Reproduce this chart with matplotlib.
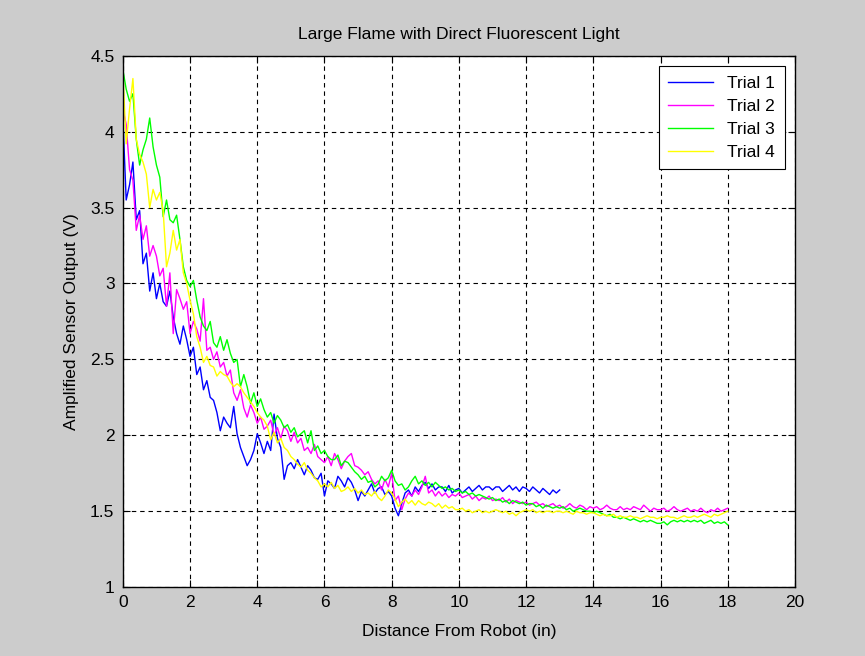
import matplotlib
matplotlib.use("Agg")
import matplotlib.pyplot as plt
import numpy as np

# sampled every 0.1 in
trial1_y = [
    4.10, 3.55, 3.65, 3.80, 3.42, 3.48, 3.13, 3.20, 2.95, 3.07,
    2.90, 3.00, 2.88, 2.85, 2.95, 2.78, 2.67, 2.60, 2.72, 2.63,
    2.52, 2.58, 2.40, 2.45, 2.30, 2.36, 2.25, 2.23, 2.15, 2.03,
    2.12, 2.08, 2.05, 2.19, 2.01, 1.92, 1.86, 1.80, 1.84, 1.90,
    2.01, 1.95, 1.88, 1.96, 1.90, 2.14, 1.98, 1.92, 1.71, 1.80,
    1.82, 1.78, 1.84, 1.79, 1.74, 1.80, 1.77, 1.72, 1.71, 1.75,
    1.60, 1.70, 1.68, 1.65, 1.73, 1.70, 1.66, 1.72, 1.69, 1.64,
    1.57, 1.63, 1.60, 1.64, 1.68, 1.62, 1.65, 1.66, 1.61, 1.63,
    1.60, 1.52, 1.47, 1.55, 1.62, 1.64, 1.60, 1.66, 1.63, 1.67,
    1.69, 1.65, 1.68, 1.64, 1.66, 1.66, 1.63, 1.67, 1.62, 1.64,
    1.65, 1.62, 1.64, 1.66, 1.63, 1.65, 1.67, 1.64, 1.66, 1.66,
    1.64, 1.66, 1.66, 1.63, 1.65, 1.67, 1.64, 1.66, 1.63, 1.66,
    1.65, 1.63, 1.66, 1.64, 1.62, 1.65, 1.63, 1.61, 1.64, 1.62,
    1.64,
]

trial2_y = [
    4.15, 4.05, 3.75, 3.68, 3.35, 3.45, 3.29, 3.38, 3.18, 3.25,
    3.18, 3.05, 3.10, 2.85, 3.07, 2.67, 2.96, 2.90, 2.83, 2.88,
    2.67, 2.75, 2.70, 2.62, 2.90, 2.56, 2.58, 2.50, 2.55, 2.45,
    2.48, 2.39, 2.43, 2.28, 2.23, 2.30, 2.18, 2.12, 2.20, 2.15,
    2.08, 2.12, 2.04, 2.06, 2.10, 2.00, 2.05, 1.98, 2.06, 2.03,
    1.96, 2.02, 1.95, 1.98, 1.90, 1.92, 1.88, 1.94, 1.86, 1.84,
    1.82, 1.86, 1.80, 1.88, 1.84, 1.78, 1.83, 1.86, 1.88, 1.80,
    1.79, 1.77, 1.74, 1.76, 1.71, 1.68, 1.70, 1.64, 1.71, 1.66,
    1.75, 1.57, 1.60, 1.51, 1.58, 1.62, 1.60, 1.64, 1.61, 1.66,
    1.73, 1.62, 1.64, 1.60, 1.63, 1.60, 1.62, 1.59, 1.61, 1.60,
    1.62, 1.59, 1.60, 1.61, 1.58, 1.60, 1.57, 1.59, 1.58, 1.60,
    1.57, 1.58, 1.57, 1.59, 1.56, 1.58, 1.55, 1.57, 1.56, 1.55,
    1.56, 1.54, 1.55, 1.56, 1.54, 1.55, 1.53, 1.54, 1.55, 1.53,
    1.54, 1.52, 1.53, 1.55, 1.53, 1.52, 1.54, 1.53, 1.51, 1.53,
    1.52, 1.53, 1.51, 1.52, 1.54, 1.52, 1.51, 1.51, 1.53, 1.51,
    1.52, 1.51, 1.53, 1.52, 1.51, 1.54, 1.52, 1.50, 1.52, 1.51,
    1.51, 1.52, 1.50, 1.51, 1.53, 1.51, 1.50, 1.51, 1.52, 1.50,
    1.51, 1.50, 1.52, 1.50, 1.49, 1.51, 1.50, 1.52, 1.50, 1.51,
    1.52,
]

trial3_y = [
    4.41, 4.28, 4.20, 4.25, 3.95, 3.78, 3.88, 3.95, 4.09, 3.90,
    3.78, 3.70, 3.44, 3.55, 3.42, 3.40, 3.45, 3.29, 3.11, 3.02,
    2.98, 3.02, 2.89, 2.78, 2.72, 2.69, 2.75, 2.61, 2.58, 2.65,
    2.56, 2.63, 2.54, 2.48, 2.50, 2.32, 2.40, 2.32, 2.21, 2.28,
    2.19, 2.24, 2.17, 2.12, 2.15, 2.08, 2.13, 2.10, 2.05, 2.07,
    2.02, 2.05, 1.99, 2.01, 2.03, 1.95, 2.03, 1.90, 1.93, 1.88,
    1.90, 1.86, 1.84, 1.84, 1.87, 1.80, 1.83, 1.82, 1.79, 1.76,
    1.74, 1.71, 1.73, 1.69, 1.70, 1.66, 1.68, 1.73, 1.70, 1.72,
    1.77, 1.70, 1.67, 1.68, 1.64, 1.66, 1.70, 1.73, 1.68, 1.70,
    1.67, 1.69, 1.66, 1.69, 1.67, 1.65, 1.66, 1.64, 1.65, 1.63,
    1.64, 1.62, 1.63, 1.61, 1.62, 1.60, 1.61, 1.60, 1.59, 1.58,
    1.59, 1.57, 1.58, 1.56, 1.57, 1.55, 1.57, 1.56, 1.55, 1.56,
    1.54, 1.55, 1.55, 1.53, 1.54, 1.52, 1.54, 1.53, 1.52, 1.53,
    1.52, 1.53, 1.51, 1.52, 1.50, 1.51, 1.52, 1.51, 1.50, 1.50,
    1.49, 1.50, 1.49, 1.48, 1.47, 1.48, 1.46, 1.46, 1.45, 1.46,
    1.45, 1.44, 1.45, 1.44, 1.43, 1.44, 1.43, 1.44, 1.43, 1.42,
    1.42, 1.43, 1.41, 1.43, 1.44, 1.43, 1.44, 1.43, 1.44, 1.43,
    1.44, 1.43, 1.44, 1.42, 1.43, 1.44, 1.42, 1.43, 1.42, 1.43,
    1.41,
]

trial4_y = [
    4.40, 3.92, 4.15, 4.35, 3.95, 3.85, 3.80, 3.72, 3.50, 3.62,
    3.55, 3.60, 3.48, 3.11, 3.20, 3.35, 3.22, 3.29, 3.07, 3.00,
    2.89, 2.80, 2.65, 2.58, 2.48, 2.52, 2.46, 2.45, 2.39, 2.42,
    2.40, 2.39, 2.35, 2.32, 2.34, 2.32, 2.28, 2.25, 2.22, 2.19,
    2.15, 2.12, 2.10, 2.06, 1.97, 2.02, 1.95, 1.98, 1.92, 1.90,
    1.86, 1.84, 1.81, 1.79, 1.82, 1.77, 1.75, 1.72, 1.70, 1.66,
    1.68, 1.66, 1.69, 1.65, 1.67, 1.63, 1.64, 1.66, 1.63, 1.65,
    1.62, 1.64, 1.61, 1.62, 1.60, 1.63, 1.59, 1.57, 1.60, 1.64,
    1.62, 1.58, 1.53, 1.56, 1.58, 1.55, 1.57, 1.54, 1.57, 1.55,
    1.54, 1.56, 1.55, 1.53, 1.55, 1.52, 1.54, 1.52, 1.53, 1.51,
    1.51, 1.52, 1.50, 1.51, 1.49, 1.50, 1.51, 1.49, 1.50, 1.49,
    1.50, 1.51, 1.50, 1.49, 1.50, 1.48, 1.49, 1.47, 1.49, 1.50,
    1.51, 1.50, 1.51, 1.49, 1.50, 1.49, 1.50, 1.50, 1.49, 1.50,
    1.50, 1.49, 1.50, 1.49, 1.48, 1.50, 1.49, 1.49, 1.48, 1.49,
    1.49, 1.48, 1.47, 1.48, 1.47, 1.47, 1.48, 1.46, 1.47, 1.46,
    1.46, 1.47, 1.46, 1.46, 1.45, 1.46, 1.47, 1.46, 1.46, 1.45,
    1.46, 1.46, 1.47, 1.46, 1.46, 1.45, 1.46, 1.47, 1.46, 1.46,
    1.47, 1.46, 1.47, 1.48, 1.47, 1.46, 1.48, 1.47, 1.48, 1.49,
    1.50,
]

labels = ["Trial 1", "Trial 2", "Trial 3", "Trial 4"]
series = [trial1_y, trial2_y, trial3_y, trial4_y]
colors = ["#0000ff", "#ff00ff", "#00ff00", "#ffff00"]

plt.rcParams["font.family"] = ["Liberation Sans", "DejaVu Sans"]

fig = plt.figure(figsize=(8.65, 6.56), dpi=100, facecolor="#cccccc")
ax = fig.add_axes([0.142, 0.105, 0.777, 0.810])
ax.set_facecolor("white")

for y, lbl, c in zip(series, labels, colors):
    x = np.arange(len(y)) * 0.1
    ax.plot(x, y, color=c, linewidth=1.0, label=lbl)

ax.set_xlim(0, 20)
ax.set_ylim(1, 4.5)
ax.set_xticks(np.arange(0, 21, 2))
ax.set_yticks([1, 1.5, 2, 2.5, 3, 3.5, 4, 4.5])
ax.set_yticklabels(["1", "1.5", "2", "2.5", "3", "3.5", "4", "4.5"])
ax.grid(True, color="black", linestyle=(0, (4, 3.5)), linewidth=0.8)
ax.tick_params(direction="in", top=True, right=True, length=5,
               labelsize=12.5, colors="black", pad=6)
for s in ax.spines.values():
    s.set_color("black")
    s.set_linewidth(1.0)

ax.set_title("Large Flame with Direct Fluorescent Light", fontsize=12.5, pad=12)
ax.set_xlabel("Distance From Robot (in)", fontsize=12.5, labelpad=10)
ax.set_ylabel("Amplified Sensor Output (V)", fontsize=12.5, labelpad=8)

leg = ax.legend(loc="upper right", fontsize=12.5, fancybox=False,
                edgecolor="black", framealpha=1, handlelength=2.6,
                borderaxespad=0.6, labelspacing=0.45, borderpad=0.55)
leg.get_frame().set_linewidth(0.8)

fig.savefig("out.png", dpi=100, facecolor=fig.get_facecolor())
